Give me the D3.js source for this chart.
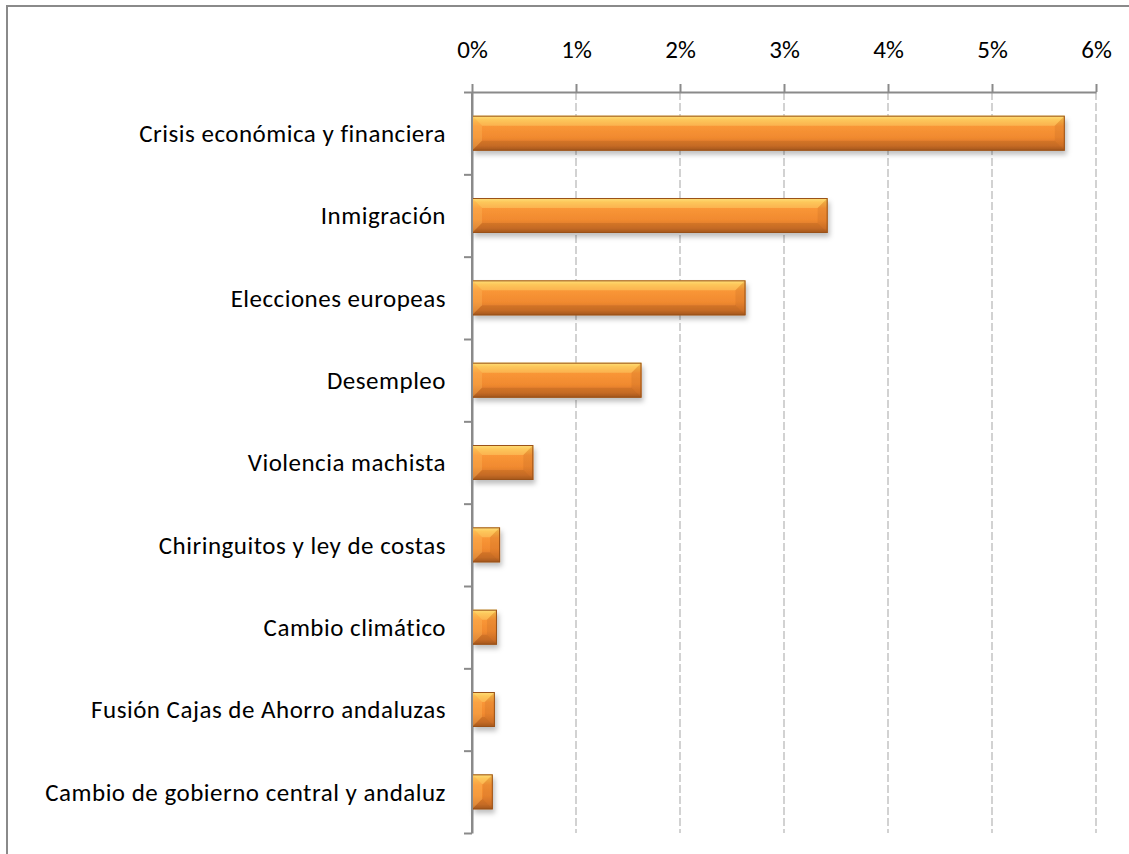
<!DOCTYPE html>
<html>
<head>
<meta charset="utf-8">
<script src="https://cdnjs.cloudflare.com/ajax/libs/d3/7.8.5/d3.min.js"></script>
<style>
  body { margin: 0; background: #fff; }
  text { font-family: Carlito, Calibri, Lato, sans-serif; font-weight: 400; fill: #000; }
</style>
</head>
<body>
<div id="chart"></div>
<script>
// data
let categories = [
    "Crisis económica y financiera",
    "Inmigración",
    "Elecciones europeas",
    "Desempleo",
    "Violencia machista",
    "Chiringuitos y ley de costas",
    "Cambio climático",
    "Fusión Cajas de Ahorro andaluzas",
    "Cambio de gobierno central y andaluz"
];
let values = [0.057, 0.0342, 0.0263, 0.0163, 0.0059, 0.0027, 0.0024, 0.0022, 0.0020];
let xTicks = [0, 0.01, 0.02, 0.03, 0.04, 0.05, 0.06];

let svgWidth = 1129;
let svgHeight = 854;

let margin = { top: 92, right: 33, bottom: 21, left: 472 };
let width = svgWidth - margin.left - margin.right;
let height = svgHeight - margin.top - margin.bottom;

let svg = d3.select("#chart")
    .append("svg")
    .attr("width", svgWidth)
    .attr("height", svgHeight);

// gradient + shadow for the bevelled bars
let defs = svg.append("defs");
let grad = defs.append("linearGradient")
    .attr("id", "barGrad")
    .attr("x1", 0).attr("y1", 0).attr("x2", 0).attr("y2", 1);
[["0%", "#fde07a"], ["12%", "#fcb848"], ["30%", "#f99637"], ["62%", "#f18a2f"], ["86%", "#d4742a"], ["100%", "#a65a1e"]]
    .forEach(s => grad.append("stop").attr("offset", s[0]).attr("stop-color", s[1]));

let shadow = defs.append("filter")
    .attr("id", "shadow")
    .attr("x", "-20%").attr("y", "-20%").attr("width", "150%").attr("height", "160%");
shadow.append("feDropShadow")
    .attr("dx", 2).attr("dy", 4)
    .attr("stdDeviation", 2.5)
    .attr("flood-color", "#000")
    .attr("flood-opacity", 0.25);

// chart frame (cropped, only top and left visible)
svg.append("path")
    .attr("d", `M7,${svgHeight} L7,6 L${svgWidth},6`)
    .attr("fill", "none")
    .attr("stroke", "#8a8a8a")
    .attr("stroke-width", 2);

let chartGroup = svg.append("g")
    .attr("transform", `translate(${margin.left}, ${margin.top})`);

// scales
let xLinearScale = d3.scaleLinear()
    .domain([0, 0.06])
    .range([0, width]);

let yBand = d3.scaleBand()
    .domain(categories)
    .range([0, height])
    .paddingInner(0.575)
    .paddingOuter(0.2875);

let yEdges = d3.scaleLinear()
    .domain([0, categories.length])
    .range([0, height]);

// gridlines
chartGroup.selectAll(".grid")
    .data(xTicks.slice(1))
    .enter()
    .append("line")
    .attr("x1", d => xLinearScale(d))
    .attr("x2", d => xLinearScale(d))
    .attr("y1", 0)
    .attr("y2", height)
    .attr("stroke", "#c4c4c4")
    .attr("stroke-width", 1.5)
    .attr("stroke-dasharray", "8,3");

// axes
let topAxis = d3.axisTop(xLinearScale)
    .tickValues(xTicks)
    .tickFormat(d3.format(".0%"))
    .tickSize(8)
    .tickSizeOuter(0)
    .tickPadding(26);

let leftAxis = d3.axisLeft(yEdges)
    .tickValues(d3.range(categories.length + 1))
    .tickFormat("")
    .tickSize(8)
    .tickSizeOuter(0);

let xAxisG = chartGroup.append("g").call(topAxis);
let yAxisG = chartGroup.append("g").call(leftAxis);

[xAxisG, yAxisG].forEach(g => {
    g.selectAll("path, line").attr("stroke", "#8a8a8a").attr("stroke-width", 2);
});
xAxisG.selectAll("text")
    .attr("font-size", 25)
    .attr("fill", "#000")
    .style("font-family", "Carlito, Calibri, Lato, sans-serif");

// bars
let bevel = 10;
let node = chartGroup.selectAll(".node")
    .data(values)
    .enter()
    .append("g")
    .classed("node", true)
    .attr("transform", (d, i) => `translate(0, ${yBand(categories[i])})`);

node.each(function(d) {
    let g = d3.select(this);
    let w = xLinearScale(d);
    let h = yBand.bandwidth();
    let b = Math.min(bevel, w / 2);

    g.append("rect")
        .attr("x", 0).attr("y", 0)
        .attr("width", w).attr("height", h)
        .attr("fill", "url(#barGrad)")
        .attr("filter", "url(#shadow)");

    // bevel facets
    g.append("polygon")
        .attr("points", `0,0 ${w},0 ${w - b},${b} ${b},${b}`)
        .attr("fill", "#ffe27a").attr("opacity", 0.35);
    g.append("polygon")
        .attr("points", `0,0 ${b},${b} ${b},${h - b} 0,${h}`)
        .attr("fill", "#ffc060").attr("opacity", 0.3);
    g.append("polygon")
        .attr("points", `${w},0 ${w - b},${b} ${w - b},${h - b} ${w},${h}`)
        .attr("fill", "#a4521a").attr("opacity", 0.15);
    g.append("polygon")
        .attr("points", `0,${h} ${b},${h - b} ${w - b},${h - b} ${w},${h}`)
        .attr("fill", "#8c4512").attr("opacity", 0.2);

    g.append("rect")
        .attr("x", 0.5).attr("y", 0.5)
        .attr("width", Math.max(0, w - 1)).attr("height", h - 1)
        .attr("fill", "none")
        .attr("stroke", "#9a5218")
        .attr("stroke-width", 1);
});

// category labels
chartGroup.selectAll(".cat")
    .data(categories)
    .enter()
    .append("text")
    .attr("x", -26)
    .attr("y", d => yBand(d) + yBand.bandwidth() / 2)
    .attr("dy", "0.35em")
    .attr("text-anchor", "end")
    .attr("font-size", 25)
    .attr("letter-spacing", 0.5)
    .text(d => d);

// redraw left axis line on top of bars
chartGroup.append("line")
    .attr("x1", 0).attr("x2", 0)
    .attr("y1", 0).attr("y2", height)
    .attr("stroke", "#8a8a8a")
    .attr("stroke-width", 2);
</script>
</body>
</html>
